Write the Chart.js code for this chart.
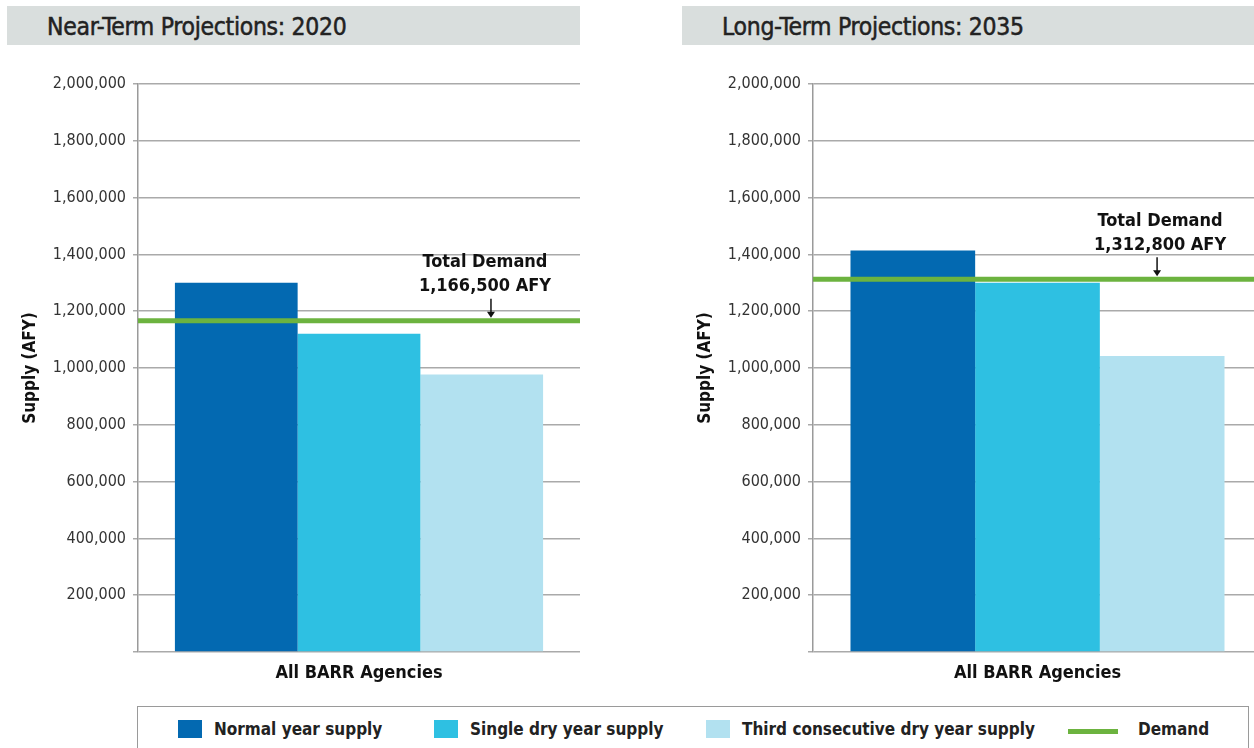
<!DOCTYPE html>
<html>
<head>
<meta charset="utf-8">
<script src="https://cdn.jsdelivr.net/npm/chart.js@4"></script>
<style>
  html, body { margin: 0; padding: 0; background: #fff; overflow: hidden; width: 1254px; height: 748px; }
  body { position: relative; font-family: "DejaVu Sans Condensed", "DejaVu Sans", sans-serif; }
  .titlebar { position: absolute; top: 6px; height: 39px; background: #d9dedd; color: #222;
              font-size: 24.5px; line-height: 41px; letter-spacing: -0.3px; -webkit-text-stroke: 0.5px #222; }
  .titlebar span { position: absolute; left: 40px; }
  canvas { position: absolute; top: 60px; }
  #legend { position: absolute; left: 137px; top: 706px; width: 1112px; height: 60px;
            border: 1.5px solid #9a9a9a; box-sizing: border-box;
            font-weight: bold; font-size: 17px; color: #222; }
  #legend .item { position: absolute; top: 12px; display: flex; align-items: center; white-space: nowrap; }
  #legend .swatch { width: 24px; height: 18px; margin-right: 12px; }
  #legend .line { width: 50px; height: 5px; margin-right: 20px; margin-top: 4px; }
</style>
</head>
<body>
<div class="titlebar" style="left:7px;width:573px"><span>Near-Term Projections: 2020</span></div>
<div class="titlebar" style="left:682px;width:572px"><span>Long-Term Projections: 2035</span></div>
<canvas id="near" width="600" height="640" style="left:2px"></canvas>
<canvas id="long" width="600" height="640" style="left:677px"></canvas>
<div id="legend"></div>
<script>
const categories = ['All BARR Agencies'];
const seriesNames = ['Normal year supply', 'Single dry year supply', 'Third consecutive dry year supply'];
const seriesColors = ['#0369b1', '#2ec0e2', '#b2e1f0'];
const supply2020 = [1300000, 1121000, 977000];
const supply2035 = [1414000, 1300000, 1042000];
const demand2020 = 1166500;
const demand2035 = 1312800;
const demandLabel = 'Demand';
const demandColor = '#6cb33f';
const yMax = 2000000;
const yStep = 200000;

const FONT = '"DejaVu Sans Condensed", "DejaVu Sans", sans-serif';
// left offsets of the legend entries inside the box
const legendSlots = [40, 296, 568, 930];

// horizontal demand line + "Total Demand" note with arrow
const demandLine = {
    id: 'demandLine',
    afterDatasetsDraw(chart, args, opts) {
        const { ctx, chartArea, scales } = chart;
        const y = scales.y.getPixelForValue(opts.value);
        ctx.save();
        ctx.strokeStyle = demandColor;
        ctx.lineWidth = 5;
        ctx.beginPath();
        ctx.moveTo(chartArea.left, y);
        ctx.lineTo(chartArea.right, y);
        ctx.stroke();

        const cx = chartArea.left + chartArea.width * opts.at;
        ctx.fillStyle = '#111';
        ctx.font = 'bold 18px ' + FONT;
        ctx.textAlign = 'center';
        ctx.textBaseline = 'middle';
        ctx.fillText('Total Demand', cx, y - 58);
        ctx.fillText(opts.value.toLocaleString('en-US') + ' AFY', cx, y - 34);

        const ax = cx + opts.arrowShift;
        ctx.strokeStyle = '#111';
        ctx.lineWidth = 1.5;
        ctx.beginPath();
        ctx.moveTo(ax, y - 22);
        ctx.lineTo(ax, y - 8);
        ctx.stroke();
        ctx.beginPath();
        ctx.moveTo(ax - 4, y - 9);
        ctx.lineTo(ax + 4, y - 9);
        ctx.lineTo(ax, y - 3);
        ctx.closePath();
        ctx.fill();
        ctx.restore();
    }
};

function makeChart(id, values, demand, at, arrowShift, padRight) {
    return new Chart(document.getElementById(id), {
        type: 'bar',
        data: {
            labels: categories,
            datasets: seriesNames.map((name, i) => ({
                label: name,
                data: [values[i]],
                backgroundColor: seriesColors[i],
                borderWidth: 0
            }))
        },
        options: {
            responsive: false,
            animation: false,
            layout: { padding: { top: 24, right: padRight, left: 0, bottom: 0 } },
            categoryPercentage: 0.833,
            barPercentage: 1,
            plugins: {
                legend: { display: false },
                tooltip: { enabled: false },
                demandLine: { value: demand, at: at, arrowShift: arrowShift }
            },
            scales: {
                x: {
                    grid: { display: false },
                    border: { display: false },
                    ticks: { color: '#111', padding: 3, font: { family: FONT, size: 18, weight: 'bold' } },
                    afterFit(scale) { scale.height = 48; }
                },
                y: {
                    min: 0,
                    max: yMax,
                    border: { display: true, color: '#9a9a9a', width: 1.5 },
                    grid: { color: '#aaaaaa', lineWidth: 1.5, tickLength: 5 },
                    ticks: {
                        stepSize: yStep,
                        color: '#333',
                        padding: 7,
                        font: { family: FONT, size: 16 },
                        callback: v => v === 0 ? '' : v.toLocaleString('en-US')
                    },
                    title: {
                        display: true,
                        text: 'Supply (AFY)',
                        color: '#111',
                        padding: { top: 18, bottom: 0 },
                        font: { family: FONT, size: 17, weight: 'bold' }
                    },
                    afterFit(scale) { scale.width = 136; }
                }
            }
        },
        plugins: [demandLine]
    });
}

makeChart('near', supply2020, demand2020, 0.785, 6, 22);
makeChart('long', supply2035, demand2035, 0.773, -3, 15);

// shared legend under both charts
const legend = document.getElementById('legend');
const entries = seriesNames.map((name, i) =>
    `<div class="swatch" style="background:${seriesColors[i]}"></div>${name}`);
entries.push(`<div class="line" style="background:${demandColor}"></div>${demandLabel}`);
entries.forEach((html, i) => {
    legend.insertAdjacentHTML('beforeend', `<div class="item" style="left:${legendSlots[i]}px">${html}</div>`);
});
</script>
</body>
</html>
